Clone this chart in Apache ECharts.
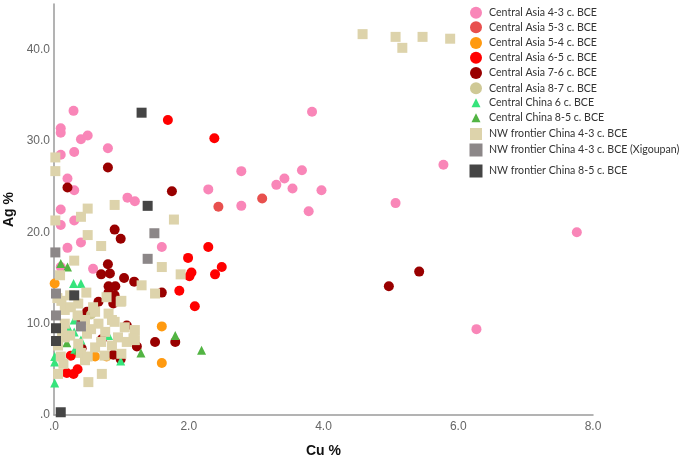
<!DOCTYPE html>
<html><head><meta charset="utf-8">
<script src="https://cdn.jsdelivr.net/npm/echarts@6/dist/echarts.min.js"></script>
<style>html,body{margin:0;padding:0;background:#fff}#c{width:685px;height:459px}</style>
</head><body><div id="c"></div>
<script>
const seriesNames = ["Central Asia 4-3 c. BCE","Central Asia 5-3 c. BCE","Central Asia 5-4 c. BCE","Central Asia 6-5 c. BCE","Central Asia 7-6 c. BCE","Central Asia 8-7 c. BCE","Central China 6 c. BCE","Central China 8-5 c. BCE","NW frontier China 4-3 c. BCE","NW frontier China 4-3 c. BCE (Xigoupan)","NW frontier China 8-5 c. BCE"];
const xTicks = [0, 2, 4, 6, 8];
const yTicks = [0, 10, 20, 30, 40];

const ca43 = [[0.29,33.3],[0.10,31.4],[0.10,30.9],[0.40,30.2],[0.50,30.6],[0.10,28.5],[0.30,28.8],[0.80,29.2],[0.20,25.9],[0.30,24.6],[1.09,23.8],[1.20,23.4],[0.10,22.5],[0.10,20.8],[0.30,21.3],[0.40,18.9],[0.20,18.3],[1.60,18.4],[0.58,16.0],[0.10,16.2],[3.83,33.2],[2.78,26.7],[2.29,24.7],[3.30,25.2],[3.42,25.9],[3.54,24.8],[3.68,26.8],[3.97,24.6],[3.78,22.3],[2.78,22.9],[5.78,27.4],[5.07,23.2],[7.76,20.0],[6.27,9.4]];
const ca53 = [[2.44,22.8],[3.09,23.7]];
const ca54 = [[0.01,14.4],[1.60,9.7],[1.60,5.7],[0.78,6.4],[0.61,6.4]];
const ca65 = [[1.69,32.3],[2.38,30.3],[2.29,18.4],[1.99,17.2],[2.49,16.2],[2.39,15.4],[2.04,15.6],[2.01,15.2],[2.09,11.9],[1.86,13.6],[0.19,4.6],[0.29,4.5],[0.35,5.0],[0.25,6.5]];
const ca76 = [[0.80,27.1],[0.20,24.9],[1.75,24.5],[0.90,20.3],[0.99,19.3],[0.80,16.5],[0.70,15.4],[0.83,15.5],[1.04,15.0],[1.19,14.6],[0.81,14.1],[0.91,14.1],[0.81,13.4],[1.60,13.4],[0.66,12.4],[0.49,11.3],[0.39,10.5],[0.88,12.2],[0.90,13.1],[1.08,9.8],[1.50,8.0],[1.80,8.0],[1.23,7.5],[0.88,6.6],[0.99,6.1],[0.71,8.3],[0.41,7.3],[5.42,15.7],[4.97,14.1]];
const ca87 = [[0.55,11.0]];
const cc6 = [[0.29,14.4],[0.40,14.4],[0.30,10.4],[0.21,9.6],[0.11,9.3],[0.01,5.8],[0.01,3.5],[0.99,5.9],[0.40,8.2],[0.31,7.2],[0.01,6.4],[0.81,8.7],[0.30,9.1]];
const cc85 = [[0.10,16.6],[0.20,16.2],[1.80,8.7],[2.19,7.1],[1.29,6.8],[0.19,7.9],[0.15,10.0],[0.36,7.1]];
const nw43 = [[4.58,41.7],[5.07,41.4],[5.17,40.2],[5.47,41.4],[5.88,41.2],[0.02,28.2],[0.02,26.7],[0.90,23.0],[0.50,22.6],[0.40,21.7],[1.78,21.4],[0.02,21.3],[0.50,19.7],[0.70,18.5],[0.30,16.9],[1.60,16.2],[1.88,15.4],[1.30,14.2],[1.50,13.3],[0.48,13.4],[0.09,15.3],[0.99,12.4],[0.24,13.1],[0.11,12.5],[0.36,12.2],[0.58,11.8],[0.78,12.9],[1.00,12.5],[0.16,11.5],[0.61,11.3],[0.81,11.1],[0.46,10.4],[0.66,10.0],[0.86,10.4],[0.16,10.0],[1.05,9.6],[0.24,8.7],[0.49,8.9],[0.76,9.1],[0.95,8.5],[1.20,9.3],[1.20,8.2],[0.36,7.8],[0.61,7.4],[0.86,7.6],[1.08,8.0],[0.16,8.5],[1.00,6.7],[0.71,4.5],[0.51,3.6],[0.06,7.6],[0.06,4.5],[0.14,5.6],[0.46,6.0],[0.90,10.2],[1.18,8.4],[0.05,12.8],[0.25,11.8],[0.35,10.9],[0.55,9.4],[0.70,8.0],[0.12,9.0],[0.40,6.8],[0.75,6.5],[0.50,6.4],[0.10,6.4]];
const xig = [[1.49,19.9],[1.39,17.1],[0.02,17.8],[0.03,13.3],[0.40,9.7],[0.03,10.9]];
const nw85 = [[1.30,33.1],[1.39,22.9],[0.30,13.1],[0.03,9.5],[0.03,8.1],[0.10,0.3]];

const dataSets = [ca43, ca53, ca54, ca65, ca76, ca87, cc6, cc85, nw43, xig, nw85];
const colors = ['#f986b8','#e8504e','#ff9a10','#ff0000','#990000','#cfc996','#36e47c','#52b443','#ddd3ab','#8c8788','#454545'];
const symbols = ['circle','circle','circle','circle','circle','circle','triangle','triangle','rect','rect','rect'];
const sizes = [10,10,10,10,10,10,9,9,10,10,10];
const legendTops = [12.7, 27.3, 43, 57.7, 73, 88.3, 101.7, 116.7, 134, 150, 171];
const legendIconSize = [12,12,12,12,12,12,9,9,12,13,13];

const series = seriesNames.map((n, i) => ({
  name: n, type: 'scatter', data: dataSets[i], symbol: symbols[i], symbolSize: sizes[i],
  itemStyle: {color: colors[i], opacity: 1}, z: 2 + i, emphasis: {disabled: true}
}));

const legends = seriesNames.map((n, i) => {
  const s = legendIconSize[i];
  return {
    data: [n], orient: 'vertical', left: 476 - s/2, top: legendTops[i] - s/2,
    padding: 0, itemWidth: s, itemHeight: s, itemGap: 0, selectedMode: false,
    textStyle: {fontFamily: 'Lato', fontSize: 10.6, color: '#333', padding: [0,0,0, 489 - (476 + s/2) - 5]}
  };
});

const chart = echarts.init(document.getElementById('c'));
chart.setOption({
  animation: false,
  color: colors,
  grid: {left: 54, right: 92, top: 4, bottom: 44, containLabel: false, outerBoundsMode: 'none'},
  legend: legends,
  xAxis: {
    type: 'value', min: xTicks[0], max: xTicks[xTicks.length-1], interval: 2,
    name: 'Cu %', nameLocation: 'middle', nameGap: 29,
    nameTextStyle: {fontFamily: 'Liberation Sans', fontWeight: 'bold', fontSize: 14, color: '#111'},
    axisLine: {lineStyle: {color: '#9a9a9a', width: 1.5}},
    axisTick: {show: false}, splitLine: {show: false},
    axisLabel: {fontFamily: 'Liberation Sans', fontSize: 12, color: '#666', margin: 6,
      formatter: v => v === 0 ? '.0' : v.toFixed(1)}
  },
  yAxis: {
    type: 'value', min: yTicks[0], max: 45, interval: 10,
    name: 'Ag %', nameLocation: 'middle', nameGap: 27, nameRotate: 90,
    nameTextStyle: {fontFamily: 'Liberation Sans', fontWeight: 'bold', fontSize: 14, color: '#111'},
    axisLine: {show: true, lineStyle: {color: '#9a9a9a', width: 1.5}},
    axisTick: {show: false}, splitLine: {show: false},
    axisLabel: {fontFamily: 'Liberation Sans', fontSize: 12, color: '#666', margin: 4, showMaxLabel: false,
      formatter: v => yTicks.indexOf(v) < 0 ? '' : (v === 0 ? '.0' : v.toFixed(1))}
  },
  series: series
});
</script></body></html>
